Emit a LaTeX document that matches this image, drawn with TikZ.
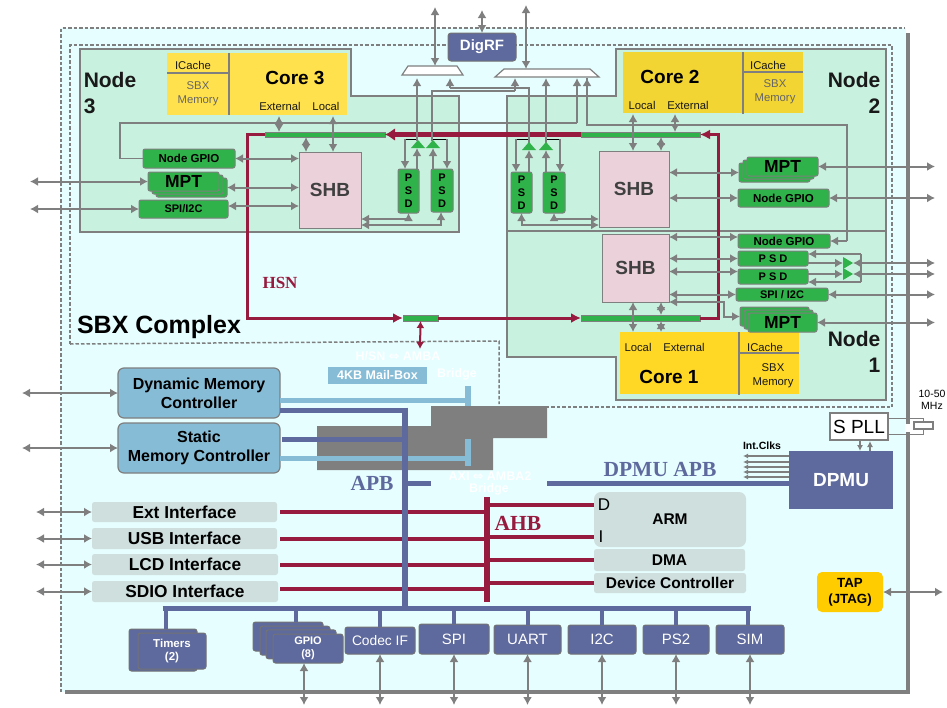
\documentclass[tikz,border=0pt]{standalone}
\usepackage{fontspec}
\setmainfont{Liberation Sans}
\newfontfamily\busfont{Liberation Serif}
\usetikzlibrary{arrows.meta}
\definecolor{wire}{HTML}{7F7F7F}
\definecolor{chip}{HTML}{E6FEFF}
\definecolor{nodearea}{HTML}{C9F1DF}
\definecolor{gblock}{HTML}{30B24A}
\definecolor{shbpink}{HTML}{EAD1DA}
\definecolor{hsnred}{HTML}{971B3F}
\definecolor{apbblue}{HTML}{5E6A9D}
\definecolor{memblue}{HTML}{86BCD6}
\definecolor{ifgray}{HTML}{CEDFDE}
\definecolor{coreA}{HTML}{FFD826}
\definecolor{coreB}{HTML}{F2D433}
\definecolor{coreC}{HTML}{FFE14D}
\definecolor{tapgold}{HTML}{FFCC00}
\newcommand{\fs}[1]{\fontsize{#1}{#1}\selectfont\baselineskip=1.2\baselineskip}
% block from its corners: name, style, x1, y1, x2, y2, text
\newcommand{\blk}[7]{\node[#2, minimum width={(#5)-(#3)}, minimum height={(#6)-(#4)}] (#1) at ({((#3)+(#5))/2},{((#4)+(#6))/2}) {#7};}
\begin{document}
\begin{tikzpicture}[x=1pt,y=-1pt]
    \tikzset{
        plain/.style={inner sep=0pt, outer sep=0pt, align=center},
        gnode/.style={plain, draw=wire, fill=gblock, line width=1pt, rounded corners=2pt, font=\bfseries\fs{11.5}},
        bus/.style={plain, draw=wire, fill=gblock, line width=.6pt},
        shb/.style={plain, draw=wire, fill=shbpink, line width=1pt, font=\bfseries\fs{19}, text=black!75},
        bnode/.style={plain, draw=black!55, fill=apbblue, line width=1pt, rounded corners=2.5pt, text=white, font=\fs{15}},
        mem/.style={plain, draw=wire, fill=memblue, line width=1.2pt, rounded corners=6pt, font=\bfseries\fs{16}},
        ifnode/.style={plain, fill=ifgray, rounded corners=2.5pt, font=\bfseries\fs{17.3}},
        lbl/.style={plain, font=\fs{11.3}, text=black!90},
        ghost/.style={plain, text=white, font=\bfseries\fs{12.5}},
        dbl/.style={arrows={Latex[length=8pt,width=9pt]-Latex[length=8pt,width=9pt]}, draw=wire, line width=2pt},
        one/.style={arrows={-Latex[length=8pt,width=9pt]}, draw=wire, line width=2pt},
        track/.style={draw=wire, line width=1.6pt},
        dashline/.style={draw=wire, line width=1.5pt, dash pattern=on 3.5pt off 2pt},
        hsn/.style={draw=hsnred, line width=3pt, arrows={-Latex[length=10pt,width=10pt]}},
        apb/.style={draw=apbblue, line width=5pt},
        amba/.style={draw=memblue, line width=5pt},
        ahb/.style={draw=hsnred, line width=4pt},
        ctl/.style={draw=black, line width=1pt},
        tri/.style={fill=gblock, draw=none},
        mux/.style={fill=white, draw=wire, line width=1.2pt},
    }
    \useasboundingbox (0,0) rectangle (947,707);

    % chip and complex outlines
    \fill[chip] (60,28) rectangle (906,692);
    \draw[dashline] (61,692) -- (61,28) -- (905,28);
    \draw[draw=wire, line width=4pt] (908,33) -- (908,692) -- (65,692);
    \draw[dashline] (70,344) -- (70,45) -- (892,45) -- (892,407) -- (547,407);
    \draw[dashline] (70,344) -- (499,341) -- (499,404);
    \fill[wire] (431,406) -- (547,406) -- (547,438) -- (493,438) -- (493,470) -- (317,470) -- (317,426) -- (431,426) -- cycle;

    % node areas
    \draw[fill=nodearea, draw=wire, line width=1.2pt] (80,49) -- (351,49) -- (351,96) -- (459,96) -- (459,232) -- (80,232) -- cycle;
    \draw[fill=nodearea, draw=wire, line width=1.2pt] (616,49) -- (886,49) -- (886,231) -- (507,231) -- (507,96) -- (616,96) -- cycle;
    \draw[fill=nodearea, draw=wire, line width=1.2pt] (507,231) -- (886,231) -- (886,400) -- (616,400) -- (616,357) -- (507,357) -- cycle;
    \node[plain, font=\bfseries\fs{21}, align=left, text=black!90] (node3) at (110,93) {Node\\[1pt]3};
    \node[plain, font=\bfseries\fs{21}, align=right, text=black!90] (node2) at (854,93) {Node\\[1pt]2};
    \node[plain, font=\bfseries\fs{21}, align=right, text=black!90] (node1) at (854,352) {Node\\[1pt]1};
    \node[plain, font=\bfseries\fs{25}] (complex) at (159,327) {SBX Complex};

    % cores
    \fill[coreC] (167,53) rectangle (347,115);
    \fill[coreB] (623,52) rectangle (803,113);
    \fill[coreA] (620,332) rectangle (799,394);
    \draw[track] (229,53) -- (229,115) (167,73) -- (229,73);
    \draw[track] (743,52) -- (743,114) (743,72) -- (803,72);
    \draw[track] (739,332) -- (739,395) (739,353) -- (799,353);
    \node[plain, font=\bfseries\fs{19}] (core3) at (295,78) {Core 3};
    \node[plain, font=\bfseries\fs{19}] (core2) at (670,77) {Core 2};
    \node[plain, font=\bfseries\fs{19}] (core1) at (669,377) {Core 1};
    \node[lbl] (c3ic) at (193,65) {ICache};
    \node[lbl, text=black!60] (c3mem) at (198,94) {SBX\\Memory};
    \node[lbl] (c3ext) at (280,106) {External};
    \node[lbl] (c3loc) at (326,106) {Local};
    \node[lbl] (c2ic) at (768,65) {ICache};
    \node[lbl, text=black!60] (c2mem) at (775,92) {SBX\\Memory};
    \node[lbl] (c2loc) at (642,105) {Local};
    \node[lbl] (c2ext) at (688,105) {External};
    \node[lbl] (c1ic) at (765,347) {ICache};
    \node[lbl] (c1mem) at (773,376) {SBX\\Memory};
    \node[lbl] (c1loc) at (638,347) {Local};
    \node[lbl] (c1ext) at (684,347) {External};

    % digrf and muxes
    \blk{digrf}{bnode, rounded corners=3pt, font=\bfseries\fs{15}}{448}{33}{516}{61}{DigRF}
    \draw[mux] (402,75) -- (408,66) -- (457,66) -- (463,75) -- cycle;
    \draw[mux] (495,77) -- (504,69) -- (590,69) -- (599,77) -- cycle;

    % hsn busses
    \blk{busTl}{bus}{265}{132}{385}{137}{}
    \blk{busTr}{bus}{581}{132}{700}{137}{}
    \blk{busM}{bus}{403}{315}{438}{321}{}
    \blk{busB}{bus}{581}{315}{700}{321}{}

    % shb and psd
    \blk{shbL}{shb}{299}{152}{361}{228}{SHB}
    \blk{shbT}{shb}{599}{151}{669}{227}{SHB}
    \blk{shbB}{shb}{602}{234}{669}{302}{SHB}
    \blk{psdA}{gnode, font=\bfseries\fs{11}}{398}{169}{419}{213}{P\\S\\D}
    \blk{psdB}{gnode, font=\bfseries\fs{11}}{431}{169}{453}{212}{P\\S\\D}
    \blk{psdC}{gnode, font=\bfseries\fs{11}}{511}{172}{532}{213}{P\\S\\D}
    \blk{psdD}{gnode, font=\bfseries\fs{11}}{543}{172}{565}{213}{P\\S\\D}
    \blk{psdE}{gnode, font=\bfseries\fs{11}}{738}{251}{808}{266}{P S D}
    \blk{psdF}{gnode, font=\bfseries\fs{11}}{738}{269}{808}{284}{P S D}

    % io blocks of the nodes
    \blk{gpioL}{gnode}{143}{149}{235}{168}{Node GPIO}
    \blk{spiL}{gnode, font=\bfseries\fs{11}}{139}{200}{228}{218}{SPI/I2C}
    \blk{gpioR}{gnode}{738}{189}{829}{207}{Node GPIO}
    \blk{gpioB}{gnode}{738}{234}{830}{248}{Node GPIO}
    \blk{spiB}{gnode, font=\bfseries\fs{11}}{736}{288}{828}{301}{SPI / I2C}
    \foreach \i/\s in {3/8,2/4}{
        \blk{mptL\i}{gnode}{148+\s}{172+\s*.75}{219+\s}{191+\s*.75}{}
        \blk{mptR\i}{gnode}{747-\s}{157+\s*.75}{818-\s}{176+\s*.75}{}
        \blk{mptB\i}{gnode}{748-\s}{313-\s*.75}{817-\s}{332-\s*.75}{}
    }
    \blk{mptL1}{gnode, font=\bfseries\fs{17.5}}{148}{172}{219}{191}{MPT}
    \blk{mptR1}{gnode, font=\bfseries\fs{17.5}}{747}{157}{818}{176}{MPT}
    \blk{mptB1}{gnode, font=\bfseries\fs{17.5}}{748}{313}{817}{332}{MPT}

    % peripherals
    \blk{dmc}{mem}{118}{368}{280}{418}{Dynamic Memory\\Controller}
    \blk{smc}{mem}{118}{423}{280}{473}{Static\\Memory Controller}
    \blk{mailbox}{plain, fill=memblue, text=white, font=\bfseries\fs{12.5}}{328}{367}{427}{384}{4KB Mail-Box}
    \node[ghost] (hsnbr) at (398,356) {H/SN {\fontspec{DejaVu Sans}⇔} AMBA};
    \node[ghost] (hsnbr2) at (457,374) {Bridge};
    \node[ghost] (axibr) at (490,476) {AXI {\fontspec{DejaVu Sans}⇔} AMBA2};
    \node[ghost] (axibr2) at (489,489) {Bridge};
    \blk{ext}{ifnode}{92}{502}{277}{522}{Ext Interface}
    \blk{usb}{ifnode}{92}{528}{277}{549}{USB Interface}
    \blk{lcd}{ifnode}{92}{554}{278}{575}{LCD Interface}
    \blk{sdio}{ifnode}{92}{581}{278}{602}{SDIO Interface}
    \blk{arm}{ifnode, rounded corners=7pt, font=\bfseries\fs{15.5}}{594}{492}{746}{547}{ARM}
    \node[plain, font=\fs{17}] (armD) at (604,505) {D};
    \node[plain, font=\fs{17}] (armI) at (601,537) {I};
    \blk{dma}{ifnode, font=\bfseries\fs{15.5}}{594}{549}{745}{571}{DMA}
    \blk{devc}{ifnode, font=\bfseries\fs{15.5}}{594}{573}{746}{593}{Device Controller}
    \blk{dpmu}{plain, fill=apbblue, text=white, font=\bfseries\fs{19}}{789}{451}{893}{509}{DPMU}
    \blk{spll}{plain, fill=white, draw=wire, line width=1.2pt, font=\fs{19}}{830}{413}{888}{440}{S PLL}
    \blk{xtal}{plain, fill=white, draw=wire, line width=1.2pt}{914}{422}{933}{429}{}
    \node[plain, font=\fs{10.5}] (mhz) at (932,400) {10-50\\MHz};
    \node[plain, font=\bfseries\fs{10.5}] (intclk) at (762,446) {Int.Clks};
    \blk{tap}{plain, fill=tapgold, rounded corners=5pt, font=\bfseries\fs{13.3}}{817}{572}{883}{612}{TAP\\(JTAG)}

    \blk{timers2}{bnode}{129}{629}{197}{671}{}
    \blk{timers1}{bnode, font=\bfseries\fs{11.5}}{138}{633}{206}{669}{Timers\\(2)}
    \foreach \i/\s in {4/0,3/7,2/13}{
        \blk{gpio\i}{bnode}{253+\s}{622+\s*.6}{323+\s}{651+\s*.6}{}
    }
    \blk{gpio1}{bnode, font=\bfseries\fs{11}}{273}{634}{343}{663}{GPIO\\(8)}
    \blk{codec}{bnode, font=\fs{13.8}}{345}{627}{415}{654}{Codec IF}
    \blk{spi}{bnode}{419}{624}{489}{654}{SPI}
    \blk{uart}{bnode}{494}{625}{561}{654}{UART}
    \blk{itc}{bnode}{568}{625}{636}{654}{I2C}
    \blk{ps}{bnode}{643}{625}{709}{654}{PS2}
    \blk{sim}{bnode}{716}{625}{784}{654}{SIM}

    % free ends and tracks
    \foreach \n/\x in {oR/935,oL/30,oM/22,oI/36,oT/943,xA/405,xB/417,xC/433,xD/447,xE/516,xF/529,xG/546,xH/560,xI/432,xJ/450,xK/515,xL/577,xM/587,xN/847,xO/861,xP/120,sL/306,cE/279,cL/333,dL/633,dE/675,dS/661}{
        \coordinate (\n) at (\x,0);
    }
    \coordinate (mL) at (0,78);
    \coordinate (mR) at (0,78);
    \coordinate (yT) at (0,139);
    \coordinate (yU) at (0,148);
    \coordinate (oB) at (0,705);
    \coordinate (gT) at (0,123);

    % apb
    \coordinate (apbT) at (405,410);
    \coordinate (apbB) at (405,608);
    \coordinate (apbM) at (431,483);
    \coordinate (apbR) at (547,483);
    \coordinate (busW) at (165,608);
    \coordinate (busE) at (748,608);
    \coordinate (barA) at (468,386);
    \coordinate (barB) at (468,406);
    \coordinate (barC) at (468,439);
    \coordinate (barD) at (468,466);
    \coordinate (ahbT) at (487,497);
    \coordinate (ahbB) at (487,602);
    \coordinate (mbx) at (420,349);

    \draw[ahb] ([xshift=3pt]ext.east) -- (ext.east -| ahbT);
    \draw[ahb] ([xshift=3pt]usb.east) -- (usb.east -| ahbT);
    \draw[ahb] ([xshift=2pt]lcd.east) -- (lcd.east -| ahbT);
    \draw[ahb] ([xshift=2pt,yshift=3pt]sdio.east) -- ([yshift=3pt]sdio.east -| ahbT);
    \draw[ahb, line width=6pt] (ahbT) -- (ahbB);
    \draw[ahb] (ahbT |- armD) -- (armD -| arm.west);
    \draw[ahb] (ahbT |- armI) -- (armI -| arm.west);
    \draw[ahb] (ahbT |- dma.west) -- (dma.west);
    \draw[ahb] (ahbT |- devc.west) -- (devc.west);

    \draw[amba] ([yshift=-7pt]dmc.east) -- ([yshift=-7pt]dmc.east -| barA);
    \draw[amba] ([yshift=-10pt]smc.east) -- ([yshift=-10pt]smc.east -| barA);
    \draw[amba, line width=6pt] (barA) -- (barB);
    \draw[amba, line width=6pt] (barC) -- (barD);
    \draw[apb, line width=5pt] ([yshift=-17pt]dmc.east) -- (apbT);
    \draw[apb] ([yshift=9pt,xshift=2pt]smc.east) -- ([yshift=9pt]smc.east -| apbT);
    \draw[apb, line width=6pt] ([yshift=2.5pt]apbT) -- (apbB);
    \draw[apb] (apbT |- apbM) -- (apbM);
    \draw[apb] (apbR) -- (apbR -| dpmu.west);
    \draw[apb] ([xshift=-2.5pt]busW) -- ([xshift=2.5pt]busE);
    \draw[apb, line width=4pt] ([xshift=3pt]timers2.north |- busW) -- ([xshift=3pt]timers2.north);
    \draw[apb, line width=4pt] ([xshift=8pt]gpio4.north |- busW) -- ([xshift=8pt]gpio4.north);
    \foreach \n in {codec,spi,uart,itc,ps}{
        \draw[apb, line width=4pt] (\n.north |- busW) -- (\n.north);
    }
    \draw[apb, line width=4pt] (busE) -- (busE |- sim.north);

    % hsn
    \draw[hsn, line width=5pt, arrows={-Latex[length=10pt,width=13pt]}] (busTr.west) -- (busTl.east);
    \draw[hsn] (busTl.west) -- ++(-18,0) |- (busM.west);
    \draw[hsn] (busM.east) -- (busB.west);
    \draw[hsn] (busB.east) -- ++(18,0) |- (busTr.east);
    \draw[hsn, line width=2pt, arrows={Latex[length=7pt,width=8pt]-Latex[length=7pt,width=8pt]}] (busM.south) -- (mbx);

    % core ports
    \draw[dbl] (cE |- 0,116) -- (cE |- busTl.north);
    \draw[dbl] (cL |- 0,116) -- (cL |- shbL.north);
    \draw[dbl] (sL |- busTl.south) -- (sL |- shbL.north);
    \draw[dbl] (dL |- 0,114) -- (dL |- shbT.north);
    \draw[dbl] (dE |- 0,114) -- (dE |- busTr.north);
    \draw[dbl] (dS |- busTr.south) -- (dS |- shbT.north);
    \draw[dbl] (dL |- shbB.south) -- (dL |- 0,332);
    \draw[dbl] (dS |- shbB.south) -- (dS |- busB.north);
    \draw[dbl] (dS |- busB.south) -- (dS |- 0,332);

    % left node io
    \draw[dbl] (gpioL.east) -- (gpioL.east -| shbL.west);
    \draw[dbl] (mptL3.east) -- (mptL3.east -| shbL.west);
    \draw[dbl] ([yshift=3pt]spiL.east) -- ([yshift=3pt]spiL.east -| shbL.west);
    \draw[dbl] (oL |- mptL1.west) -- (mptL1.west);
    \draw[dbl] (oL |- spiL.west) -- (spiL.west);
    \draw[track] (gpioL.west) -- (gpioL.west -| xP) |- (gT -| xL);
    \draw[one] (gT -| xL) -- (xL |- mR);

    % right node io
    \draw[dbl] (mptR3.west) -- (mptR3.west -| shbT.east);
    \draw[dbl] (gpioR.west) -- (gpioR.west -| shbT.east);
    \draw[dbl] (mptR1.east) -- (mptR1.east -| oR);
    \draw[dbl] (gpioR.east) -- (gpioR.east -| oR);
    \draw[dbl] ([yshift=4pt]gpioB.west) -- ([yshift=4pt]gpioB.west -| shbB.east);
    \draw[dbl] (psdE.west) -- (psdE.west -| shbB.east);
    \draw[dbl] ([yshift=5pt]psdF.west) -- ([yshift=5pt]psdF.west -| shbB.east);
    \draw[dbl] (spiB.west) -- (spiB.west -| shbB.east);
    \draw[dbl] (spiB.east) -- (spiB.east -| oR);
    \draw[dbl] (shbB.south east) -- ++(55,0) |- (mptB3.west);
    \draw[dbl] (mptB1.east) -- (mptB1.east -| oR);
    \draw[track] (xM |- mR) -- (xM |- 0,125) -| (xN |- gpioB.east);
    \draw[one] (xN |- gpioB.east) -- (gpioB.east);
    \draw[one] (xM |- 0,125) -- (xM |- mR);

    % left psd
    \draw[ctl] (xA |- yT) -- (xB |- yT) (xC |- yT) -- (xD |- yT);
    \draw[one] (xA |- yT) -- (xA |- psdA.north);
    \draw[one] (xD |- yT) -- (xD |- psdB.north);
    \draw[one] (xB |- psdA.north) -- (xB |- yU);
    \draw[one] (xC |- psdB.north) -- (xC |- yU);
    \draw[one] (xB |- 0,141) -- (xB |- mL);
    \draw[track] (xI |- 0,141) -- (xI |- 0,91) -- (xK |- 0,91);
    \draw[one] (xK |- 0,91) -- (xK |- mL);
    \draw[tri] (411,148) -- (418,140) -- (425,148) -- cycle;
    \draw[tri] (426,148) -- (433,140) -- (440,148) -- cycle;
    \draw[dbl] (psdA.south) |- (shbL.east |- 0,219);
    \draw[dbl] ([xshift=-1pt]psdB.south) |- (shbL.east |- 0,225);

    % right psd
    \draw[ctl] (xE |- yT) -- (xF |- yT) (xG |- yT) -- (xH |- yT);
    \draw[one] (xE |- yT) -- (xE |- psdC.north);
    \draw[one] (xH |- yT) -- (xH |- psdD.north);
    \draw[one] (xF |- psdC.north) -- (xF |- 0,150);
    \draw[one] (xG |- psdD.north) -- (xG |- 0,150);
    \draw[one] (xG |- 0,143) -- (xG |- mL);
    \draw[track] (xF |- 0,143) -- (xF |- 0,88) -- (xJ |- 0,88);
    \draw[one] (xJ |- 0,88) -- (xJ |- mL);
    \draw[tri] (522,150) -- (529,142) -- (536,150) -- cycle;
    \draw[tri] (539,150) -- (546,142) -- (553,150) -- cycle;
    \draw[dbl] (psdC.south) |- (shbT.west |- 0,225);
    \draw[dbl] (psdD.south) |- (shbT.west |- 0,219);

    % lower psd
    \draw[track] (xO |- 0,254) -- (xO |- 0,282);
    \draw[one] (xO |- 0,254) -- (psdE.east |- 0,254);
    \draw[one] (xO |- 0,282) -- (psdF.east |- 0,282);
    \draw[one] (psdE.east |- 0,263) -- (843,263);
    \draw[one] (psdF.east |- 0,274) -- (843,274);
    \draw[tri] (843,257) -- (853,263) -- (843,269) -- cycle;
    \draw[tri] (843,268) -- (853,274) -- (843,280) -- cycle;
    \draw[dbl] (853,263) -- (oR |- 0,263);
    \draw[dbl] (853,274) -- (oR |- 0,274);

    % top pins
    \draw[dbl] (435,7) -- (435,66);
    \draw[dbl] (digrf.north |- 0,10) -- (digrf.north);
    \draw[dbl] (526,5) -- (526,69);

    % peripheral pins
    \draw[dbl] (oM |- dmc.west) -- (dmc.west);
    \draw[dbl] (oM |- smc.west) -- (smc.west);
    \foreach \n in {ext,usb,lcd,sdio}{
        \draw[dbl] (oI |- \n.west) -- (\n.west);
    }
    \draw[dbl] ([xshift=-4pt]gpio1.south) -- ([xshift=-4pt]gpio1.south |- oB);
    \foreach \n in {codec,spi,uart,itc,ps,sim}{
        \draw[dbl] (\n.south) -- (\n.south |- oB);
    }
    \draw[dbl] (tap.east) -- (tap.east -| oT);

    % clocks
    \foreach \s in {3,8,13,18,24}{
        \draw[arrows={-Latex[length=5pt,width=5pt]}, draw=wire, line width=1.2pt] ([yshift=\s pt]dpmu.west) -- ([yshift=\s pt]dpmu.west -| intclk.west);
    }
    \draw[one, line width=1.2pt, arrows={-Latex[length=6pt,width=6pt]}] (860,440) -- (860,451);
    \draw[one, line width=1.2pt, arrows={-Latex[length=6pt,width=6pt]}] (870,451) -- (870,441);
    \draw[draw=wire, line width=.8pt] (spll.east |- 0,418) -| (xtal.north);
    \draw[draw=wire, line width=.8pt] (spll.east |- 0,434) -| (xtal.south);
    \fill[white] (905,424) rectangle (912,432);

    % bus names
    \node[plain, font=\busfont\bfseries\fs{17}, text=hsnred] (hsnname) at (280,283) {HSN};
    \node[plain, font=\busfont\bfseries\fs{21.5}, text=apbblue] (apbname) at (372,483) {APB};
    \node[plain, font=\busfont\bfseries\fs{21.5}, text=apbblue] (dpmuname) at (660,469) {DPMU APB};
    \node[plain, font=\busfont\bfseries\fs{21.5}, text=hsnred] (ahbname) at (518,523) {AHB};
\end{tikzpicture}
\end{document}
